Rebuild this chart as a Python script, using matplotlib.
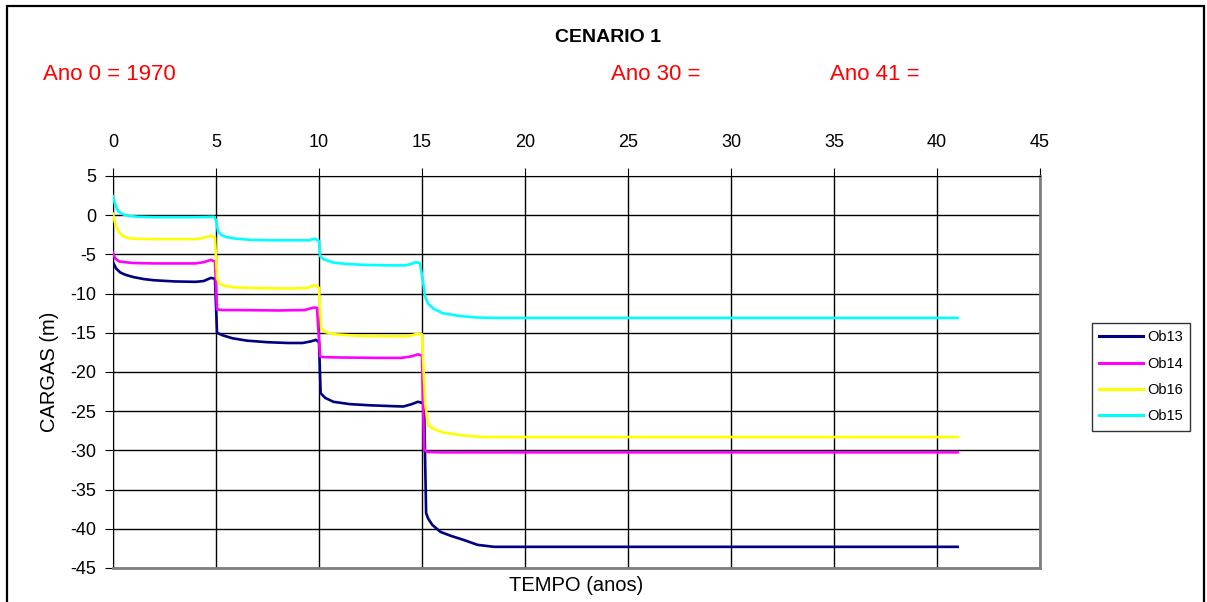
import matplotlib
matplotlib.use("Agg")
import matplotlib.pyplot as plt
from matplotlib.patches import Rectangle

plt.rcParams['font.family'] = ['Liberation Sans', 'DejaVu Sans']
plt.rcParams['axes.unicode_minus'] = False

# Ob13
t_ob13 = [0, 0.15, 0.35, 0.6, 1.0, 1.5, 2.0, 3.0, 4.0, 4.4, 4.75, 4.95, 5.05, 5.3, 5.8, 6.5,
          7.5, 8.5, 9.2, 9.6, 9.85, 10.0, 10.08, 10.3, 10.7, 11.5, 12.5, 13.5, 14.1, 14.5,
          14.8, 15.1, 15.2, 15.3, 15.5, 15.9, 16.4, 17.0, 17.7, 18.5, 20, 41]
y_ob13 = [-6.0, -6.8, -7.3, -7.6, -7.9, -8.15, -8.3, -8.45, -8.5, -8.4, -8.0, -8.1, -15.0,
          -15.3, -15.7, -16.0, -16.2, -16.3, -16.3, -16.1, -15.9, -16.2, -22.7, -23.3, -23.8,
          -24.1, -24.25, -24.35, -24.4, -24.1, -23.8, -24.0, -38.0, -38.7, -39.5, -40.4,
          -40.9, -41.4, -42.05, -42.3, -42.3, -42.3]

# Ob14
t_ob14 = [0, 0.1, 0.3, 0.6, 1.0, 2.0, 3.0, 4.0, 4.4, 4.75, 4.95, 5.05, 5.3, 6, 8, 9.3, 9.7,
          9.9, 10.05, 10.2, 11, 13, 14.0, 14.5, 14.8, 15.0, 15.1, 15.25, 16, 41]
y_ob14 = [-4.8, -5.5, -5.9, -6.0, -6.1, -6.15, -6.15, -6.15, -6.0, -5.7, -5.9, -12.0, -12.1,
          -12.1, -12.15, -12.1, -11.8, -11.8, -18.0, -18.1, -18.15, -18.2, -18.2, -18.0,
          -17.75, -17.9, -29.9, -30.2, -30.25, -30.25]

# Ob16
t_ob16 = [0, 0.1, 0.25, 0.45, 0.7, 1.0, 2, 3, 4, 4.4, 4.7, 4.95, 5.05, 5.15, 5.4, 5.9, 7,
          8.5, 9.4, 9.7, 9.9, 10.0, 10.1, 10.3, 10.8, 12, 14, 14.4, 14.8, 15.0, 15.15, 15.3,
          15.6, 16, 17, 18, 41]
y_ob16 = [0.2, -1.0, -2.0, -2.6, -2.9, -3.0, -3.05, -3.05, -3.05, -2.9, -2.65, -2.8, -8.0,
          -8.7, -9.0, -9.2, -9.3, -9.35, -9.3, -9.0, -9.0, -9.3, -14.4, -14.9, -15.2, -15.4,
          -15.45, -15.4, -15.1, -15.2, -24.0, -26.8, -27.3, -27.7, -28.1, -28.3, -28.3]

# Ob15
t_ob15 = [0, 0.1, 0.25, 0.5, 0.8, 1.2, 2, 3, 4, 4.9, 5.0, 5.1, 5.25, 5.5, 6.0, 6.7, 8, 9,
          9.5, 9.8, 10.0, 10.05, 10.2, 10.7, 11.5, 12.3, 13.5, 14.2, 14.5, 14.7, 14.9, 15.05,
          15.15, 15.3, 15.55, 16.0, 16.8, 17.7, 18.5, 41]
y_ob15 = [2.4, 1.4, 0.5, 0.1, -0.1, -0.2, -0.25, -0.25, -0.25, -0.2, -0.6, -2.1, -2.5, -2.8,
          -3.0, -3.15, -3.2, -3.2, -3.2, -3.0, -3.3, -5.2, -5.6, -6.05, -6.25, -6.35, -6.4,
          -6.4, -6.2, -6.0, -6.1, -8.5, -10.4, -11.3, -11.9, -12.5, -12.85, -13.05, -13.1,
          -13.1]

series = [
    ("Ob13", t_ob13, y_ob13, "#000080"),
    ("Ob14", t_ob14, y_ob14, "#FF00FF"),
    ("Ob16", t_ob16, y_ob16, "#FFFF00"),
    ("Ob15", t_ob15, y_ob15, "#00FFFF"),
]

fig = plt.figure(figsize=(12.07, 6.02), dpi=100)
ax = fig.add_axes([113 / 1207, 1 - 568 / 602, 927 / 1207, 392 / 602])

for name, t, y, col in series:
    ax.plot(t, y, color=col, lw=1.9, label=name, zorder=3)

ax.set_xlim(0, 45)
ax.set_ylim(-45, 5)
ax.set_xticks(range(0, 46, 5))
ax.set_yticks(range(-45, 6, 5))
ax.xaxis.tick_top()
ax.tick_params(axis='x', direction='out', length=6, pad=12, labelsize=13, color='black')
ax.tick_params(axis='y', direction='out', length=6, pad=6, labelsize=13, color='black')
ax.grid(True, color='black', lw=1.0, zorder=1)

ax.spines['top'].set_color('black')
ax.spines['left'].set_color('black')
ax.spines['bottom'].set_color('#808080')
ax.spines['right'].set_color('#808080')
ax.spines['bottom'].set_linewidth(2)
ax.spines['right'].set_linewidth(2)

ax.set_ylabel("CARGAS (m)", fontsize=14.5)
ax.yaxis.set_label_coords(-0.058, 0.5)
ax.xaxis.set_label_position('bottom')
ax.set_xlabel("TEMPO (anos)", fontsize=14.5)
ax.xaxis.set_label_coords(0.5, -0.02)

fig.text(608 / 1207, 1 - 37 / 602, "CENARIO 1", fontsize=14, fontweight='bold',
         ha='center', va='center')
fig.text(43 / 1207, 1 - 75 / 602, "Ano 0 = 1970", fontsize=16, color='red', va='center')
fig.text(611 / 1207, 1 - 75 / 602, "Ano 30 =", fontsize=16, color='red', va='center')
fig.text(830 / 1207, 1 - 75 / 602, "Ano 41 =", fontsize=16, color='red', va='center')

leg = ax.legend(loc='upper left', bbox_to_anchor=(1092 / 1207, 1 - 323 / 602),
                bbox_transform=fig.transFigure, fontsize=10.5, frameon=True,
                fancybox=False, edgecolor='black', handlelength=3.0,
                labelspacing=0.85, borderaxespad=0, handletextpad=0.3, borderpad=0.5)
leg.get_frame().set_linewidth(1.0)
for line in leg.get_lines():
    line.set_linewidth(2.2)

fig.patches.append(Rectangle((7 / 1207, -0.05), 1197 / 1207, 1.05 - 6 / 602,
                             transform=fig.transFigure, fill=False, edgecolor='black',
                             lw=1.6, figure=fig))

fig.savefig("out.png", dpi=100)
